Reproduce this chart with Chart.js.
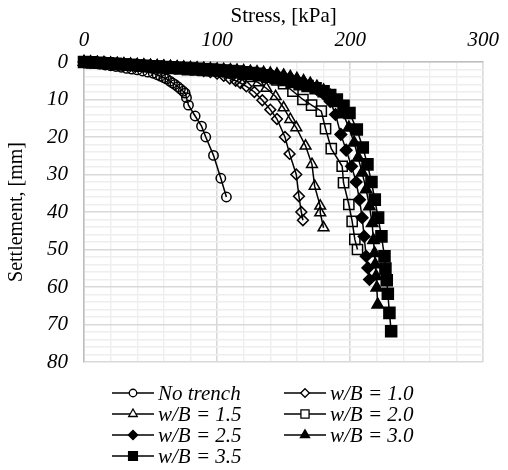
<!DOCTYPE html>
<html>
<head>
<meta charset="utf-8">
<script src="https://cdn.jsdelivr.net/npm/chart.js@4.4.1/dist/chart.umd.min.js"></script>
<style>
  html, body { margin: 0; padding: 0; background: #ffffff; }
  #wrap { width: 508px; height: 470px; }
</style>
</head>
<body>
<div id="wrap"><canvas id="chart" width="508" height="470"></canvas></div>
<script>
// Load–settlement curves: footing stress (kPa) vs settlement (mm)
const seriesLabels = ['No trench', 'w/B = 1.0', 'w/B = 1.5', 'w/B = 2.0', 'w/B = 2.5', 'w/B = 3.0', 'w/B = 3.5'];

const stressNoTrench = [0, 4, 8, 12, 16, 20, 24, 28, 32, 36,
  40, 44, 48, 52, 55, 57.5, 60, 62, 64.5, 66.5,
  68.3, 70.5, 72.5, 74.5, 76, 77, 78.5, 83.5, 88.3, 91.5,
  97.3, 102.8, 107];
const settleNoTrench = [0, 0.2, 0.4, 0.6, 0.8, 1.0, 1.2, 1.4, 1.7, 1.9,
  2.1, 2.4, 2.7, 3.0, 3.4, 3.8, 4.2, 4.5, 5.1, 5.6,
  6.0, 6.6, 7.2, 7.8, 8.3, 9.5, 11.5, 14.4, 17.1, 20,
  24.9, 31, 36];

const stressWB10 = [0, 5, 10, 15, 20, 25, 30, 35, 40, 45,
  50, 55, 60, 65, 70, 75, 80, 85, 90, 95,
  100, 105, 109.5, 114, 117.5, 122, 128, 134, 140, 145,
  151, 154.5, 159.5, 161.5, 163.3, 164.5];
const settleWB10 = [0, 0.1, 0.2, 0.3, 0.4, 0.5, 0.6, 0.7, 0.8, 0.9,
  1.0, 1.1, 1.2, 1.35, 1.5, 1.7, 1.9, 2.1, 2.4, 2.7,
  3.1, 3.7, 4.4, 5.0, 5.6, 6.5, 8.0, 10.2, 12.7, 15.2,
  20, 24.5, 30, 35.8, 40, 42.2];

const stressWB15 = [0, 5, 10, 15, 20, 25, 30, 35, 40, 45,
  50, 55, 60, 65, 70, 75, 80, 85, 90, 95,
  100, 105, 110, 115, 120, 125, 131, 137, 144, 150,
  155, 159.5, 166.5, 171.3, 173.3, 177.5, 177.5, 180];
const settleWB15 = [0, 0.1, 0.2, 0.3, 0.4, 0.5, 0.6, 0.7, 0.8, 0.9,
  1.0, 1.1, 1.2, 1.3, 1.4, 1.55, 1.7, 1.85, 2.0, 2.2,
  2.4, 2.6, 2.9, 3.3, 3.8, 4.4, 5.5, 7.0, 9.2, 12.2,
  15.3, 17.5, 22.4, 27.3, 33.1, 38.4, 40.2, 44.2];

const stressWB20 = [0, 5, 10, 15, 20, 25, 30, 35, 40, 45,
  50, 55, 60, 65, 70, 75, 80, 85, 90, 95,
  100, 105, 110, 115, 120, 125, 130, 135, 140, 145,
  150, 157, 164.5, 171, 178.3, 181.5, 185.8, 194, 195, 199,
  201.5, 203.5, 205.5];
const settleWB20 = [0, 0.1, 0.2, 0.3, 0.4, 0.5, 0.6, 0.7, 0.8, 0.9,
  1.0, 1.1, 1.2, 1.3, 1.4, 1.5, 1.6, 1.7, 1.8, 1.9,
  2.0, 2.15, 2.3, 2.45, 2.6, 2.8, 3.0, 3.4, 4.0, 4.8,
  5.8, 7.8, 10, 11.5, 13.1, 17.8, 23.1, 27.8, 32.2, 38,
  42.5, 47.3, 50];

const stressWB25 = [0, 5, 10, 15, 20, 25, 30, 35, 40, 45,
  50, 55, 60, 65, 70, 75, 80, 85, 90, 95,
  100, 105, 110, 115, 120, 125, 130, 135, 140, 145,
  150, 155, 160, 165, 170, 175, 180, 185, 189, 193,
  197, 201, 204.5, 207, 209, 210.5, 212, 213.3, 214.5];
const settleWB25 = [0, 0.1, 0.2, 0.3, 0.4, 0.5, 0.6, 0.7, 0.8, 0.9,
  1.0, 1.1, 1.2, 1.3, 1.4, 1.5, 1.6, 1.7, 1.8, 1.9,
  2.0, 2.1, 2.2, 2.35, 2.5, 2.65, 2.8, 3.0, 3.2, 3.5,
  3.9, 4.3, 4.9, 5.5, 6.3, 7.3, 8.5, 10.5, 14, 19.3,
  23.5, 27.8, 32, 36.7, 41.5, 46.5, 51.8, 54.9, 58];

const stressWB30 = [0, 5, 10, 15, 20, 25, 30, 35, 40, 45,
  50, 55, 60, 65, 70, 75, 80, 85, 90, 95,
  100, 105, 110, 115, 120, 125, 130, 135, 140, 145,
  150, 155, 160, 165, 170, 175, 180, 185, 190, 195,
  199, 203, 206, 209, 212, 214.5, 216.5, 217.5, 218.3, 218.8,
  219.5, 220, 220.7];
const settleWB30 = [0, 0.1, 0.2, 0.3, 0.4, 0.5, 0.6, 0.7, 0.8, 0.9,
  1.0, 1.1, 1.2, 1.3, 1.4, 1.5, 1.6, 1.7, 1.8, 1.9,
  2.0, 2.1, 2.2, 2.3, 2.45, 2.6, 2.75, 2.9, 3.1, 3.3,
  3.6, 4.0, 4.5, 5.1, 5.8, 6.6, 7.6, 9.0, 11, 14,
  17.5, 21.5, 25.5, 29.5, 34, 38.5, 43, 47.5, 51, 54,
  57.1, 60.2, 64.7];

const stressWB35 = [0, 6, 12, 18, 24, 30, 36, 42, 48, 54,
  60, 66, 72, 78, 84, 90, 96, 102, 108, 114,
  120, 126, 132, 138, 144, 150, 156, 162, 168, 174,
  180, 185, 190, 195, 199.5, 205, 209.5, 213, 216, 218.5,
  221, 223.5, 225.8, 226.5, 227.5, 228.3, 229.5, 230.8];
const settleWB35 = [0, 0.1, 0.2, 0.35, 0.5, 0.65, 0.8, 1.0, 1.15, 1.3,
  1.45, 1.6, 1.75, 1.9, 2.0, 2.1, 2.2, 2.35, 2.5, 2.7,
  2.9, 3.2, 3.5, 3.9, 4.3, 4.8, 5.3, 5.9, 6.4, 7.0,
  7.8, 8.8, 10, 11.7, 13.6, 18, 22.8, 27.3, 32, 36.7,
  41.5, 46.5, 51.8, 55.1, 58.2, 61.8, 66.9, 71.8];

const stressTicks = [0, 100, 200, 300];
const settleTicks = [0, 10, 20, 30, 40, 50, 60, 70, 80];

const stressSeries = [stressNoTrench, stressWB10, stressWB15, stressWB20, stressWB25, stressWB30, stressWB35];
const settleSeries = [settleNoTrench, settleWB10, settleWB15, settleWB20, settleWB25, settleWB30, settleWB35];

// Marker look per series: open circle, open diamond, open triangle, open square,
// then filled diamond, filled triangle, filled square
const markerStyles = [
  { style: 'circle',   radius: 4.7, filled: false },
  { style: 'rectRot',  radius: 5.4, filled: false },
  { style: 'triangle', radius: 6.2, filled: false },
  { style: 'rect',     radius: 7.2, filled: false },
  { style: 'rectRot',  radius: 5.8, filled: true },
  { style: 'triangle', radius: 6.6, filled: true },
  { style: 'rect',     radius: 7.8, filled: true }
];

const SERIF = "'Liberation Serif', 'Times New Roman', serif";
const INK = '#000000';

const datasets = seriesLabels.map((label, i) => {
  const xs = stressSeries[i], ys = settleSeries[i];
  const m = markerStyles[i];
  return {
    label: label,
    data: xs.map((x, k) => ({ x: x, y: ys[k] })),
    borderColor: INK,
    borderWidth: 1.5,
    pointStyle: m.style,
    pointRadius: m.radius,
    pointHoverRadius: m.radius,
    pointBorderColor: INK,
    pointBackgroundColor: m.filled ? INK : 'rgba(0,0,0,0)',
    pointBorderWidth: 1.5,
    showLine: true,
    fill: false,
    tension: 0,
    clip: false,
    order: seriesLabels.length - i
  };
});

// Two-column legend below the plot: a short line with the marker in its middle
const lineLegend = {
  id: 'lineLegend',
  afterDraw(chart) {
    const ctx = chart.ctx;
    const cols = [112, 284];
    const rows = [393, 414, 435, 456];
    ctx.save();
    ctx.font = "italic 21px " + SERIF;
    ctx.textBaseline = 'middle';
    ctx.textAlign = 'left';
    chart.data.datasets.forEach((ds, i) => {
      const m = markerStyles[i];
      const x0 = cols[i % 2];
      const y = rows[Math.floor(i / 2)];
      ctx.strokeStyle = INK;
      ctx.lineWidth = 1.5;
      ctx.beginPath();
      ctx.moveTo(x0, y);
      ctx.lineTo(x0 + 42, y);
      ctx.stroke();
      ctx.fillStyle = m.filled ? INK : '#ffffff';
      ctx.strokeStyle = INK;
      ctx.lineWidth = 1.3;
      Chart.helpers.drawPoint(ctx, {
        pointStyle: m.style,
        rotation: 0,
        radius: m.radius * 0.8,
        borderWidth: 1.3
      }, x0 + 21, y);
      ctx.fillStyle = INK;
      ctx.fillText(ds.label, x0 + 46, y + 1);
    });
    ctx.restore();
  }
};

new Chart(document.getElementById('chart'), {
  type: 'scatter',
  data: { datasets: datasets },
  plugins: [lineLegend],
  options: {
    responsive: false,
    animation: false,
    devicePixelRatio: 1,
    layout: { padding: { top: 0, left: 0, right: 24, bottom: 108 } },
    plugins: {
      legend: { display: false },
      tooltip: { enabled: false }
    },
    scales: {
      x: {
        type: 'linear',
        position: 'top',
        min: 0,
        max: 300,
        afterFit(scale) { scale.height = 62; },
        afterBuildTicks(scale) {
          const t = [];
          for (let v = 0; v <= 300; v += 20) t.push({ value: v });
          scale.ticks = t;
        },
        ticks: {
          autoSkip: false,
          maxRotation: 0,
          padding: 9,
          color: INK,
          font: { family: SERIF, size: 21, style: 'italic' },
          callback: (v) => stressTicks.includes(v) ? String(v) : ''
        },
        grid: {
          drawTicks: false,
          color: (c) => (c.tick && c.tick.value % 100 === 0) ? '#d9d9d9' : '#eeeeee',
          lineWidth: (c) => (c.tick && c.tick.value % 100 === 0) ? 1.6 : 1.4
        },
        border: { color: '#bfbfbf', width: 1.5 },
        title: {
          display: true,
          text: 'Stress, [kPa]',
          color: INK,
          font: { family: SERIF, size: 21 },
          padding: { top: 4, bottom: 0 }
        }
      },
      y: {
        type: 'linear',
        reverse: true,
        min: 0,
        max: 80,
        afterFit(scale) { scale.width = 84; },
        afterBuildTicks(scale) {
          const t = [];
          for (let v = 0; v <= 80; v += 2) t.push({ value: v });
          scale.ticks = t;
        },
        ticks: {
          autoSkip: false,
          padding: 16,
          color: INK,
          font: { family: SERIF, size: 21, style: 'italic' },
          callback: (v) => settleTicks.includes(v) ? String(v) : ''
        },
        grid: {
          drawTicks: false,
          color: (c) => (c.tick && c.tick.value % 10 === 0) ? '#d9d9d9' : '#eeeeee',
          lineWidth: (c) => (c.tick && c.tick.value % 10 === 0) ? 1.6 : 1.4
        },
        border: { color: '#bfbfbf', width: 1.5 },
        title: {
          display: true,
          text: 'Settlement, [mm]',
          color: INK,
          font: { family: SERIF, size: 20 },
          padding: { top: 5, bottom: 0 }
        }
      }
    }
  }
});
</script>
</body>
</html>
